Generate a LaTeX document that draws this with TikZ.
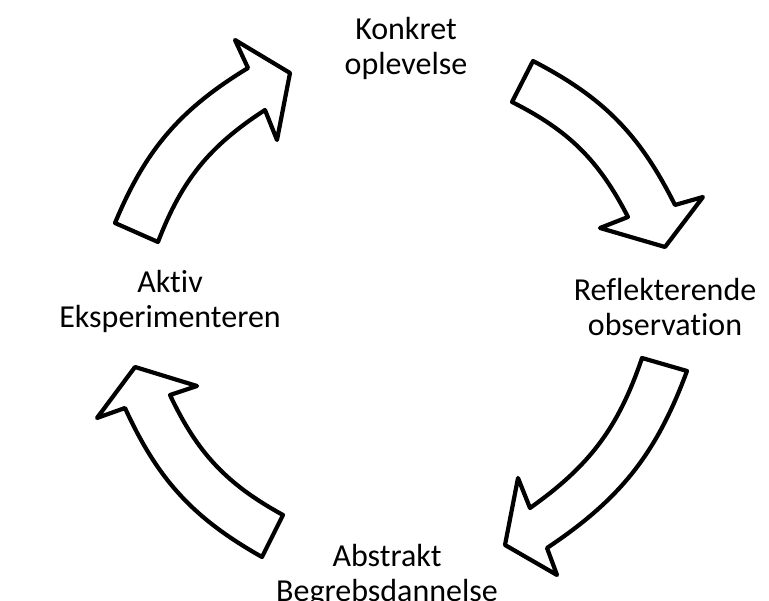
\documentclass[tikz,border=0pt]{standalone}
\usepackage{fontspec}
\setmainfont{Carlito}[Ligatures=NoCommon]
\tikzset{
  cyclearrow/.style={draw=black, fill=white, line width=4.2pt, line join=round},
  stage/.style={align=center, inner sep=0pt, font=\fontsize{32}{35}\selectfont}
}
\begin{document}
\begin{tikzpicture}[x=1pt, y=1pt]
  \useasboundingbox (0,0) rectangle (769,601);
  % stages of the cycle
  \node[stage] (konkret) at (406,553) {Konkret\\oplevelse};
  \node[stage] (reflekt) at (665,294) {Reflekterende\\observation};
  \node[stage] (abstrakt) at (387,25) {Abstrakt\\Begrebsdannelse};
  \node[stage] (aktiv) at (170,300) {Aktiv\\Eksperimenteren};
  % curved block arrows, clockwise
  \draw[cyclearrow] (533,540) to[bend left=18] (675,396) -- (703,404) -- (665,354)
    -- (600,373) -- (628,384) to[bend right=18] (512,499) -- cycle;
  \draw[cyclearrow] (687,230) to[bend left=18] (547,53) -- (557,26) -- (505,56)
    -- (518,123) -- (530,93) to[bend right=18] (642,243) -- cycle;
  \draw[cyclearrow] (262,44) to[bend left=18] (125,193) -- (97,183) -- (135,234)
    -- (197,215) -- (170,206) to[bend right=18] (283,86) -- cycle;
  \draw[cyclearrow] (115,378) to[bend left=18] (248,533) -- (235,561) -- (290,528)
    -- (277,461) -- (265,491) to[bend right=18] (158,359) -- cycle;
\end{tikzpicture}
\end{document}
